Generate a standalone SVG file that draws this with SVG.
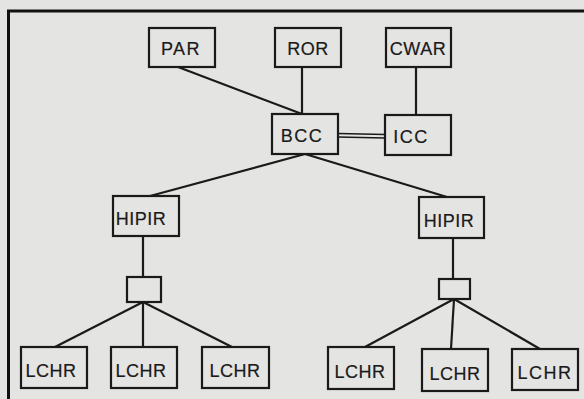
<svg xmlns="http://www.w3.org/2000/svg" width="584" height="399" viewBox="0 0 584 399">
<style>
.bg{fill:#e4e4e2}
.box{fill:none;stroke:#1a1a1a;stroke-width:2.2}
.ln{fill:none;stroke:#1a1a1a;stroke-width:2.2}
.frame{fill:none;stroke:#111;stroke-width:3}
text{font-family:"Liberation Sans",Arial,sans-serif;font-size:18px;fill:#1a1a1a;stroke:#1a1a1a;stroke-width:0.2;text-anchor:middle;letter-spacing:0.5px}
</style>
<rect class="bg" x="0" y="0" width="584" height="399"/>
<path class="frame" d="M8.5,399 V11 H584"/>
<g id="connectors">
<line class="ln" x1="178" y1="67" x2="302" y2="114"/>
<line class="ln" x1="302" y1="67" x2="302" y2="114"/>
<line class="ln" x1="416" y1="67" x2="416" y2="115"/>
<line class="ln" x1="338" y1="133.5" x2="385" y2="134.5" style="stroke-width:1.6"/>
<line class="ln" x1="338" y1="137" x2="385" y2="138" style="stroke-width:1.6"/>
<line class="ln" x1="305" y1="154" x2="150" y2="196"/>
<line class="ln" x1="305" y1="154" x2="447" y2="197"/>
<line class="ln" x1="143" y1="236" x2="143" y2="277"/>
<line class="ln" x1="453" y1="238" x2="453" y2="279"/>
<line class="ln" x1="143" y1="302" x2="55" y2="347"/>
<line class="ln" x1="143" y1="302" x2="143" y2="347"/>
<line class="ln" x1="143" y1="302" x2="232" y2="347"/>
<line class="ln" x1="454" y1="299" x2="365" y2="347"/>
<line class="ln" x1="454" y1="299" x2="451" y2="349"/>
<line class="ln" x1="454" y1="299" x2="540" y2="349"/>
</g>
<g id="PAR"><rect class="box" x="149" y="28" width="66" height="39"/><text x="181" y="55" style="letter-spacing:1.5px">PAR</text></g>
<g id="ROR"><rect class="box" x="275" y="28" width="66" height="39"/><text x="308" y="55">ROR</text></g>
<g id="CWAR"><rect class="box" x="386" y="28" width="65" height="39"/><text x="418" y="55">CWAR</text></g>
<g id="BCC"><rect class="box" x="272" y="114" width="66" height="40"/><text x="302" y="142" style="letter-spacing:1.5px">BCC</text></g>
<g id="ICC"><rect class="box" x="385" y="115" width="66" height="40"/><text x="411" y="143" style="letter-spacing:1.5px">ICC</text></g>
<g id="HIPIR1"><rect class="box" x="113" y="196" width="66" height="40"/><text x="141" y="225">HIPIR</text></g>
<g id="HIPIR2"><rect class="box" x="419" y="197" width="65" height="41"/><text x="449" y="227">HIPIR</text></g>
<g id="hub1"><rect class="box" x="127" y="277" width="34" height="25"/></g>
<g id="hub2"><rect class="box" x="439" y="279" width="31" height="20"/></g>
<g id="LCHR1"><rect class="box" x="21" y="347" width="66" height="41"/><text x="51" y="377">LCHR</text></g>
<g id="LCHR2"><rect class="box" x="111" y="347" width="66" height="41"/><text x="141" y="377">LCHR</text></g>
<g id="LCHR3"><rect class="box" x="202" y="347" width="67" height="41"/><text x="235" y="377">LCHR</text></g>
<g id="LCHR4"><rect class="box" x="328" y="347" width="66" height="42"/><text x="360" y="378">LCHR</text></g>
<g id="LCHR5"><rect class="box" x="422" y="349" width="66" height="42"/><text x="455" y="380">LCHR</text></g>
<g id="LCHR6"><rect class="box" x="512" y="349" width="66" height="41"/><text x="545" y="379" style="letter-spacing:1.5px">LCHR</text></g>
</svg>
